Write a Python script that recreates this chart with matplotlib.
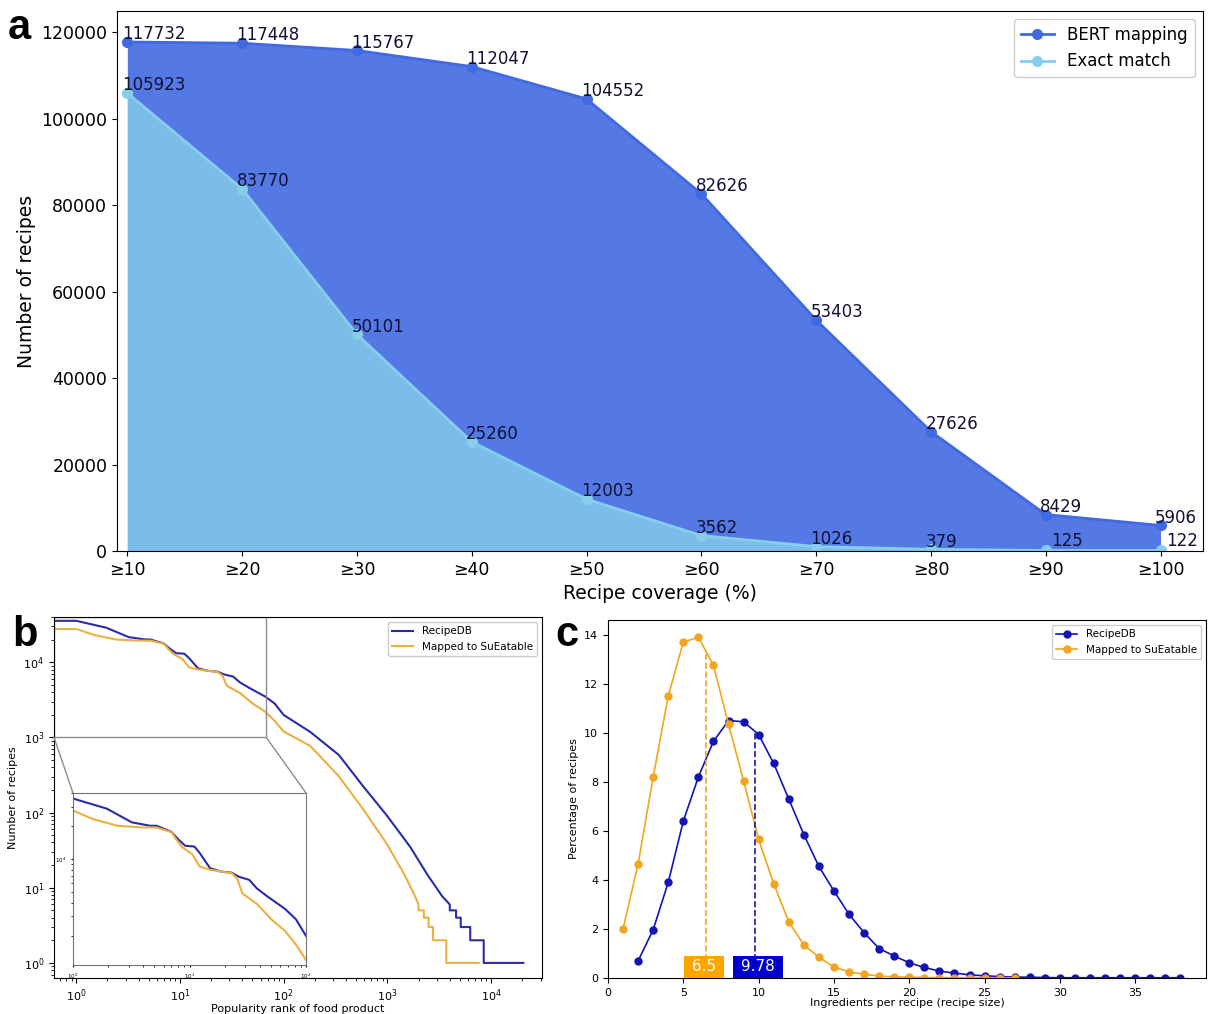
import numpy as np
import matplotlib
matplotlib.use("Agg")
import matplotlib.pyplot as plt
from matplotlib.patches import ConnectionPatch

# ---------------- data ----------------
coverage_labels = ['≥10', '≥20', '≥30', '≥40', '≥50', '≥60', '≥70', '≥80', '≥90', '≥100']
bert_counts = [117732, 117448, 115767, 112047, 104552, 82626, 53403, 27626, 8429, 5906]
exact_counts = [105923, 83770, 50101, 25260, 12003, 3562, 1026, 379, 125, 122]

# panel b: rank-frequency curves (rank, number of recipes)
recipedb_rank = [0.61, 1.0, 1.95, 3.2, 4.6, 5.2, 7.0, 8.0, 9.2, 11, 12.2, 15, 18.6, 23, 26.5,
                 32.6, 37.8, 46.6, 66, 82, 100, 181, 340, 590, 980, 1660, 2450, 3380,
                 4000, 4000, 4600, 4600, 5100, 5100, 6300, 6300, 8500, 8500, 20500]
recipedb_count = [35600, 35600, 28800, 21600, 20100, 20100, 17700, 15100, 13200, 13000, 11400,
                  8260, 7690, 7500, 6900, 6450, 5400, 4560, 3510, 2820, 1990, 1180, 585, 220,
                  93, 35, 14.7, 7.7, 6, 5, 5, 4, 4, 3, 3, 2, 2, 1, 1]
mapped_rank = [0.61, 1.0, 1.47, 2.4, 3.95, 5.2, 7.0, 7.7, 8.6, 10.6, 12.2, 15, 23, 25.6, 28.5,
               37.8, 50, 66, 82, 100, 181, 340, 590, 980, 1410, 1790, 2000, 2000, 2250, 2250,
               2500, 2500, 2750, 2750, 3700, 3700, 7600]
mapped_count = [27700, 27700, 23200, 20100, 19400, 19400, 17600, 15100, 12900, 11000, 8570,
                7980, 7430, 6670, 4840, 3910, 2840, 2210, 1660, 1200, 767, 305, 109, 39, 16.4,
                8.5, 6, 5, 5, 4, 4, 3, 3, 2, 2, 1, 1]

# panel c: recipe size distribution
size_recipedb = list(range(2, 39))
pct_recipedb = [0.7, 1.97, 3.9, 6.4, 8.2, 9.65, 10.5, 10.45, 9.93, 8.75, 7.3, 5.85, 4.55, 3.55,
                2.6, 1.85, 1.2, 0.9, 0.62, 0.43, 0.28, 0.2, 0.13, 0.09, 0.06, 0.04, 0.03, 0.02,
                0.01, 0.01, 0.01, 0.01, 0.01, 0.01, 0.01, 0.01, 0.01]
size_mapped = list(range(1, 28))
pct_mapped = [2.0, 4.65, 8.2, 11.5, 13.7, 13.9, 12.75, 10.35, 8.05, 5.65, 3.85, 2.3, 1.35, 0.85,
              0.45, 0.25, 0.15, 0.08, 0.05, 0.03, 0.02, 0.01, 0.01, 0.01, 0.01, 0.01, 0.01]
mean_mapped = 6.5
mean_recipedb = 9.78

# ---------------- figure ----------------
W, H = 1209, 1014
fig = plt.figure(figsize=(W / 100, H / 100), dpi=100)


def box(l, r, t, b):
    return [l / W, (H - b) / H, (r - l) / W, (b - t) / H]


# ---- panel a ----
axa = fig.add_axes(box(117, 1203, 11, 551))
x = np.arange(len(coverage_labels))
c_bert = '#4169E1'
c_exact = '#87CEEB'
axa.fill_between(x, bert_counts, 0, color=c_bert, alpha=0.9, lw=0)
axa.plot(x, bert_counts, '-o', color=c_bert, lw=2, ms=7, label='BERT mapping')
axa.fill_between(x, exact_counts, 0, color=c_exact, alpha=0.8, lw=0)
axa.plot(x, exact_counts, '-o', color=c_exact, lw=2, ms=7, label='Exact match')
for xi, v in zip(x, bert_counts):
    axa.annotate(str(v), (xi, v), xytext=(-4, 2), textcoords='offset points',
                 fontsize=12, color='#111133', ha='left', va='baseline')
for xi, v in zip(x, exact_counts):
    axa.annotate(str(v), (xi, v), xytext=(-4, 2) if xi < 8 else (4, 3), textcoords='offset points',
                 fontsize=12, color='#111133', ha='left', va='baseline')
axa.set_xlim(-0.09, 9.37)
axa.set_ylim(0, 124900)
axa.set_xticks(x)
axa.set_xticklabels(coverage_labels)
axa.set_yticks(np.arange(0, 120001, 20000))
axa.tick_params(labelsize=12.5)
axa.set_xlabel('Recipe coverage (%)', fontsize=13.5)
axa.set_ylabel('Number of recipes', fontsize=13.5)
axa.legend(loc='upper right', fontsize=12, framealpha=1)
fig.text(8 / W, 1 - 8 / H, 'a', fontsize=30, fontweight='bold', va='top', ha='left',
         family='Liberation Sans')

# ---- panel b ----
c_blue_b = '#2B2BA8'
c_orange_b = '#EBB040'
axb = fig.add_axes(box(54, 542, 617, 978))
axb.plot(recipedb_rank, recipedb_count, color=c_blue_b, lw=1.5, label='RecipeDB')
axb.plot(mapped_rank, mapped_count, color=c_orange_b, lw=1.5, label='Mapped to SuEatable')
axb.set_xscale('log')
axb.set_yscale('log')
axb.set_xlim(0.61, 31000)
axb.set_ylim(0.63, 40000)
axb.tick_params(labelsize=8)
axb.set_xlabel('Popularity rank of food product', fontsize=8, labelpad=0)
axb.set_ylabel('Number of recipes', fontsize=8)
axb.legend(loc='upper right', fontsize=7.5, framealpha=1)

axi = fig.add_axes(box(73, 306, 793, 965))
axi.plot(recipedb_rank, recipedb_count, color=c_blue_b, lw=1.5)
axi.plot(mapped_rank, mapped_count, color=c_orange_b, lw=1.5)
axi.set_xscale('log')
axi.set_yscale('log')
axi.set_xlim(1, 100)
axi.set_ylim(1080, 40000)
axi.tick_params(labelsize=4, length=1.5, which='both')
axi.yaxis.set_minor_formatter(matplotlib.ticker.NullFormatter())
for s in axi.spines.values():
    s.set_color('0.45')
rx0, rx1, ry0, ry1 = 0.61, 68, 1000, 40000
axb.plot([rx0, rx1, rx1, rx0, rx0], [ry0, ry0, ry1, ry1, ry0], color='0.55', lw=1)
for (px, qx) in [(rx0, 0), (rx1, 1)]:
    con = ConnectionPatch(xyA=(px, ry0), coordsA=axb.transData,
                          xyB=(qx, 1), coordsB=axi.transAxes, color='0.55', lw=1)
    fig.add_artist(con)
fig.text(12 / W, 1 - 615 / H, 'b', fontsize=30, fontweight='bold', va='top', ha='left',
         family='Liberation Sans')

# ---- panel c ----
c_blue_c = '#1414B4'
c_orange_c = '#F2A51E'
axc = fig.add_axes(box(608, 1206, 620, 978))
axc.plot(size_recipedb, pct_recipedb, '-o', color=c_blue_c, lw=1.2, ms=5, label='RecipeDB')
axc.plot(size_mapped, pct_mapped, '-o', color=c_orange_c, lw=1.2, ms=5, label='Mapped to SuEatable')
ym = np.interp(mean_mapped, size_mapped, pct_mapped)
yr = np.interp(mean_recipedb, size_recipedb, pct_recipedb)
axc.plot([mean_mapped, mean_mapped], [0, ym], ls='--', color=c_orange_c, lw=1.2)
axc.plot([mean_recipedb, mean_recipedb], [0, yr], ls='--', color='#1A1A9A', lw=1.2)
axc.text(mean_mapped - 0.1, 0.45, f' {mean_mapped} ', color='white', fontsize=11, ha='center', va='center',
         bbox=dict(boxstyle='square,pad=0.2', fc='#FFA500', ec='none'))
axc.text(mean_recipedb + 0.17, 0.45, f' {mean_recipedb} ', color='white', fontsize=11, ha='center', va='center',
         bbox=dict(boxstyle='square,pad=0.2', fc='#0000CC', ec='none'))
axc.set_xlim(0, 39.7)
axc.set_ylim(0, 14.6)
axc.set_yticks(np.arange(0, 15, 2))
axc.set_xticks(np.arange(0, 36, 5))
axc.tick_params(labelsize=8)
axc.set_xlabel('Ingredients per recipe (recipe size)', fontsize=8, labelpad=0)
axc.set_ylabel('Percentage of recipes', fontsize=8)
axc.legend(loc='upper right', fontsize=7.5, framealpha=1)
fig.text(555 / W, 1 - 615 / H, 'c', fontsize=30, fontweight='bold', va='top', ha='left',
         family='Liberation Sans')

fig.savefig('out.png', dpi=100)
